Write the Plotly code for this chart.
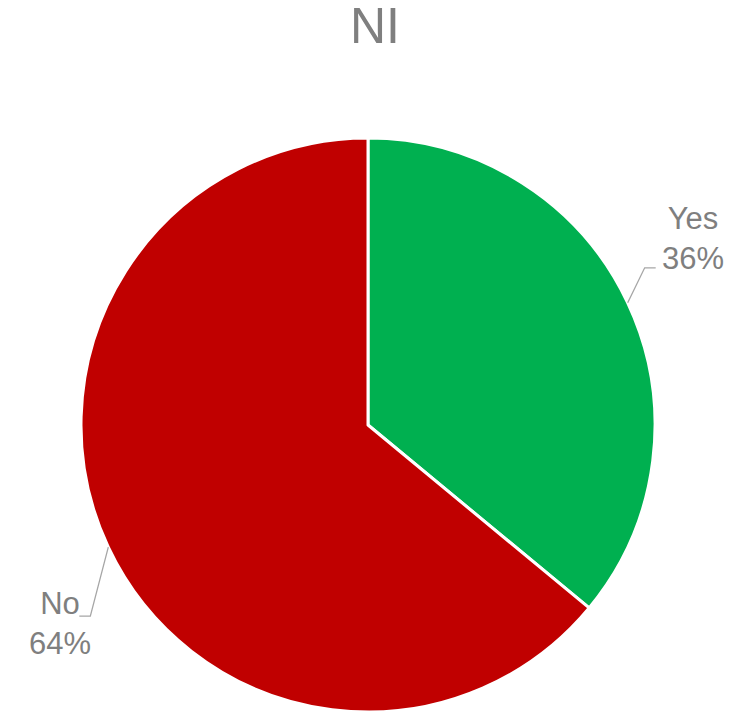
import math
import plotly.graph_objects as go

# Data
title_text = "NI"
labels = ["Yes", "No"]
values = [36, 64]
colors = ["#00B050", "#C00000"]

OFF = 8  # default page body margin
W, H = 751 - OFF, 712 - OFF
cx, cy, R = 368 - OFF, 425 - OFF, 287  # pie centre / radius in figure px

# label layout (offsets from slice-edge anchor, px): elbow point, end point, text centre
label_style = {
    "Yes": {"elbow": (17, -35), "end": (28, -35), "text": (65, -64)},
    "No": {"elbow": (-18, 69), "end": (-29, 69), "text": (-48, 76)},
}

def px2paper(x, y):
    return x / W, 1 - y / H

fig = go.Figure()
fig.add_trace(go.Pie(
    labels=labels, values=values, sort=False, direction="clockwise", rotation=0,
    marker=dict(colors=colors, line=dict(color="white", width=3)),
    textinfo="none", hoverinfo="label+percent", showlegend=False,
    domain=dict(x=[(cx - R) / W, (cx + R) / W], y=[0, (2 * R) / H]),
))

total = sum(values)
cum = 0
annotations = []
shapes = []
for lab, v in zip(labels, values):
    mid = (cum + v / 2) / total * 2 * math.pi
    cum += v
    ax = cx + R * math.sin(mid)
    ay = cy - R * math.cos(mid)
    st = label_style[lab]
    ex, ey = ax + st["elbow"][0], ay + st["elbow"][1]
    hx, hy = ax + st["end"][0], ay + st["end"][1]
    tx, ty = ax + st["text"][0], ay + st["text"][1]
    pts = [px2paper(ax, ay), px2paper(ex, ey), px2paper(hx, hy)]
    path = "M {} {} L {} {} L {} {}".format(*[c for p in pts for c in p])
    shapes.append(dict(type="path", xref="paper", yref="paper", path=path,
                       line=dict(color="#A6A6A6", width=1.3)))
    px_, py_ = px2paper(tx, ty)
    annotations.append(dict(
        x=px_, y=py_, xref="paper", yref="paper", showarrow=False,
        text=f"{lab}<br>{round(v / total * 100)}%", align="center",
        xanchor="center", yanchor="middle",
        font=dict(family="Liberation Sans, Arial, sans-serif", size=31, color="#7F7F7F"),
    ))

fig.update_layout(
    width=W, height=H,
    margin=dict(l=0, r=0, t=0, b=0),
    paper_bgcolor="white", plot_bgcolor="white",
    title=dict(text=title_text, x=(375 - OFF) / W, xanchor="center", y=1.0,
               yanchor="top",
               font=dict(family="Liberation Sans, Arial, sans-serif", size=50, color="#7F7F7F")),
    annotations=annotations,
    shapes=shapes,
)

fig.write_html("out.html")
